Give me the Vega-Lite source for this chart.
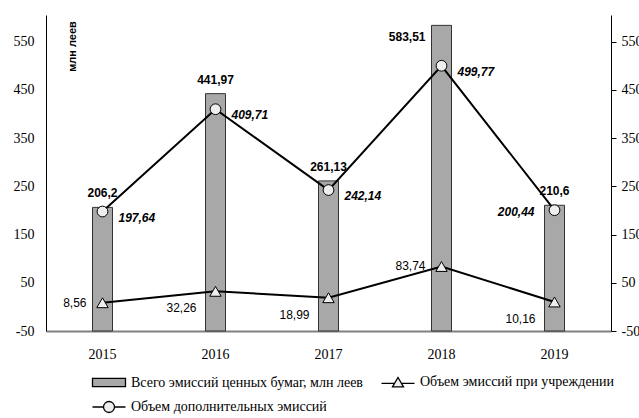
{
  "$schema": "https://vega.github.io/schema/vega-lite/v6.json",
  "width": 565,
  "height": 316,
  "autosize": {"type": "none"},
  "padding": {"left": 46, "top": 15, "right": 28, "bottom": 87},
  "background": "white",
  "config": {
    "view": {"stroke": null},
    "locale": {"number": {"decimal": ",", "thousands": " ", "grouping": [3], "currency": ["", ""], "minus": "-"}},
    "axis": {"grid": false, "labelFont": "Liberation Serif", "labelFontSize": 14, "labelColor": "black"},
    "legend": {
      "orient": "none",
      "legendX": 52,
      "legendY": 356,
      "direction": "horizontal",
      "columns": 2,
      "symbolSize": 400,
      "symbolStrokeWidth": 1.3,
      "symbolStrokeColor": "black",
      "symbolOpacity": 1,
      "labelFont": "Liberation Serif",
      "labelFontSize": 14,
      "labelColor": "black",
      "labelOffset": 11,
      "labelLimit": 400,
      "columnPadding": 15,
      "rowPadding": 6,
      "padding": 0
    }
  },
  "data": {
    "values": [
      {"year": "2015", "series": "Всего эмиссий ценных бумаг, млн леев", "value": 206.2},
      {"year": "2016", "series": "Всего эмиссий ценных бумаг, млн леев", "value": 441.97},
      {"year": "2017", "series": "Всего эмиссий ценных бумаг, млн леев", "value": 261.13},
      {"year": "2018", "series": "Всего эмиссий ценных бумаг, млн леев", "value": 583.51},
      {"year": "2019", "series": "Всего эмиссий ценных бумаг, млн леев", "value": 210.6},
      {"year": "2015", "series": "Объем эмиссий при учреждении", "value": 8.56},
      {"year": "2016", "series": "Объем эмиссий при учреждении", "value": 32.26},
      {"year": "2017", "series": "Объем эмиссий при учреждении", "value": 18.99},
      {"year": "2018", "series": "Объем эмиссий при учреждении", "value": 83.74},
      {"year": "2019", "series": "Объем эмиссий при учреждении", "value": 10.16},
      {"year": "2015", "series": "Объем дополнительных эмиссий", "value": 197.64},
      {"year": "2016", "series": "Объем дополнительных эмиссий", "value": 409.71},
      {"year": "2017", "series": "Объем дополнительных эмиссий", "value": 242.14},
      {"year": "2018", "series": "Объем дополнительных эмиссий", "value": 499.77},
      {"year": "2019", "series": "Объем дополнительных эмиссий", "value": 200.44}
    ]
  },
  "layer": [
    {
      "layer": [
        {
          "transform": [{"filter": "datum.series === 'Всего эмиссий ценных бумаг, млн леев'"}],
          "mark": {"type": "bar", "size": 20, "fill": "#a8a8a8", "stroke": "#333333", "strokeWidth": 1},
          "encoding": {
            "x": {"field": "year", "type": "nominal", "scale": {"type": "band", "paddingInner": 0, "paddingOuter": 0},
              "axis": {"title": null, "labelAngle": 0, "ticks": false, "domainColor": "#808080", "domainWidth": 2, "labelPadding": 16}},
            "y": {"field": "value", "type": "quantitative", "scale": {"domain": [-50, 605], "nice": false, "zero": false},
              "axis": {"values": [-50, 50, 150, 250, 350, 450, 550], "ticks": false, "domainColor": "black", "labelPadding": 12,
                "title": "млн леев", "titleX": 26, "titleY": 31, "titleAngle": -90, "titleAlign": "center", "titleBaseline": "middle",
                "titleFont": "Liberation Sans", "titleFontSize": 11, "titleFontWeight": "bold", "titleColor": "black"}},
            "y2": {"datum": -50}
          }
        },
        {
          "transform": [{"filter": "datum.series === 'Объем дополнительных эмиссий'"}],
          "mark": {"type": "line", "color": "black", "strokeWidth": 2},
          "encoding": {"x": {"field": "year", "type": "nominal"}, "y": {"field": "value", "type": "quantitative"}}
        },
        {
          "transform": [{"filter": "datum.series === 'Объем эмиссий при учреждении'"}],
          "mark": {"type": "line", "color": "black", "strokeWidth": 2},
          "encoding": {"x": {"field": "year", "type": "nominal"}, "y": {"field": "value", "type": "quantitative"}}
        },
        {
          "transform": [{"filter": "datum.series === 'Объем дополнительных эмиссий'"}],
          "mark": {"type": "point", "shape": "circle", "size": 115, "filled": true, "fill": "#eeeeee", "stroke": "black", "strokeWidth": 1, "opacity": 1},
          "encoding": {"x": {"field": "year", "type": "nominal"}, "y": {"field": "value", "type": "quantitative"}}
        },
        {
          "transform": [{"filter": "datum.series === 'Объем эмиссий при учреждении'"}],
          "mark": {"type": "point", "shape": "triangle-up", "size": 130, "filled": true, "fill": "#eeeeee", "stroke": "black", "strokeWidth": 1, "opacity": 1},
          "encoding": {"x": {"field": "year", "type": "nominal"}, "y": {"field": "value", "type": "quantitative"}}
        },
        {
          "transform": [{"filter": "datum.series === 'Всего эмиссий ценных бумаг, млн леев' && datum.year !== '2018'"}],
          "mark": {"type": "text", "align": "center", "baseline": "bottom", "dy": -7, "font": "Liberation Sans", "fontSize": 12, "fontWeight": "bold", "color": "black"},
          "encoding": {"x": {"field": "year", "type": "nominal"}, "y": {"field": "value", "type": "quantitative"}, "text": {"field": "value", "type": "quantitative", "format": "~f"}}
        },
        {
          "transform": [{"filter": "datum.series === 'Всего эмиссий ценных бумаг, млн леев' && datum.year === '2018'"}],
          "mark": {"type": "text", "align": "right", "baseline": "middle", "dx": -16, "dy": 12, "font": "Liberation Sans", "fontSize": 12, "fontWeight": "bold", "color": "black"},
          "encoding": {"x": {"field": "year", "type": "nominal"}, "y": {"field": "value", "type": "quantitative"}, "text": {"field": "value", "type": "quantitative", "format": "~f"}}
        },
        {
          "transform": [{"filter": "datum.series === 'Объем дополнительных эмиссий' && datum.year !== '2019'"}],
          "mark": {"type": "text", "align": "left", "baseline": "middle", "dx": 16, "dy": 6, "font": "Liberation Sans", "fontSize": 12, "fontWeight": "bold", "fontStyle": "italic", "color": "black"},
          "encoding": {"x": {"field": "year", "type": "nominal"}, "y": {"field": "value", "type": "quantitative"}, "text": {"field": "value", "type": "quantitative", "format": "~f"}}
        },
        {
          "transform": [{"filter": "datum.series === 'Объем дополнительных эмиссий' && datum.year === '2019'"}],
          "mark": {"type": "text", "align": "right", "baseline": "middle", "dx": -20, "dy": 2, "font": "Liberation Sans", "fontSize": 12, "fontWeight": "bold", "fontStyle": "italic", "color": "black"},
          "encoding": {"x": {"field": "year", "type": "nominal"}, "y": {"field": "value", "type": "quantitative"}, "text": {"field": "value", "type": "quantitative", "format": "~f"}}
        },
        {
          "transform": [{"filter": "datum.series === 'Объем эмиссий при учреждении' && (datum.year === '2015' || datum.year === '2018')"}],
          "mark": {"type": "text", "align": "right", "baseline": "middle", "dx": -16, "dy": 0, "font": "Liberation Sans", "fontSize": 12, "color": "black"},
          "encoding": {"x": {"field": "year", "type": "nominal"}, "y": {"field": "value", "type": "quantitative"}, "text": {"field": "value", "type": "quantitative", "format": "~f"}}
        },
        {
          "transform": [{"filter": "datum.series === 'Объем эмиссий при учреждении' && datum.year !== '2015' && datum.year !== '2018'"}],
          "mark": {"type": "text", "align": "right", "baseline": "middle", "dx": -19, "dy": 17, "font": "Liberation Sans", "fontSize": 12, "color": "black"},
          "encoding": {"x": {"field": "year", "type": "nominal"}, "y": {"field": "value", "type": "quantitative"}, "text": {"field": "value", "type": "quantitative", "format": "~f"}}
        }
      ]
    },
    {
      "mark": {"type": "point", "filled": true, "stroke": "black", "strokeWidth": 1.3, "fillOpacity": 0, "strokeOpacity": 0},
      "encoding": {
        "x": {"field": "year", "type": "nominal"},
        "y": {"field": "value", "type": "quantitative", "scale": {"domain": [-50, 605], "nice": false, "zero": false},
          "axis": {"orient": "right", "values": [-50, 50, 150, 250, 350, 450, 550], "ticks": true, "tickSize": 5, "tickColor": "black", "domainColor": "black", "labelPadding": 5, "title": null}},
        "shape": {"field": "series", "type": "nominal",
          "scale": {"domain": ["Всего эмиссий ценных бумаг, млн леев", "Объем эмиссий при учреждении", "Объем дополнительных эмиссий"],
            "range": ["M-1.65,-0.42H1.65V0.42H-1.65Z", "M-1.65,0.1H-0.35M0.35,0.1H1.65M-0.55,0.45L0,-0.5L0.55,0.45Z", "M-1.65,0H-0.55M0.55,0H1.65M0.55,0A0.55,0.55,0,1,1,-0.55,0A0.55,0.55,0,1,1,0.55,0Z"]},
          "legend": {"title": null,
            "encode": {"symbols": {"update": {"stroke": {"value": "black"}, "strokeOpacity": {"value": 1}, "fillOpacity": {"value": 1}, "strokeWidth": {"value": 1.3}, "opacity": {"value": 1}}}}}},
        "fill": {"field": "series", "type": "nominal",
          "scale": {"domain": ["Всего эмиссий ценных бумаг, млн леев", "Объем эмиссий при учреждении", "Объем дополнительных эмиссий"],
            "range": ["#a8a8a8", "#eeeeee", "#eeeeee"]},
          "legend": {"title": null,
            "encode": {"symbols": {"update": {"stroke": {"value": "black"}, "strokeOpacity": {"value": 1}, "fillOpacity": {"value": 1}, "strokeWidth": {"value": 1.3}, "opacity": {"value": 1}}}}}}
      }
    }
  ],
  "resolve": {"scale": {"y": "independent"}}
}
